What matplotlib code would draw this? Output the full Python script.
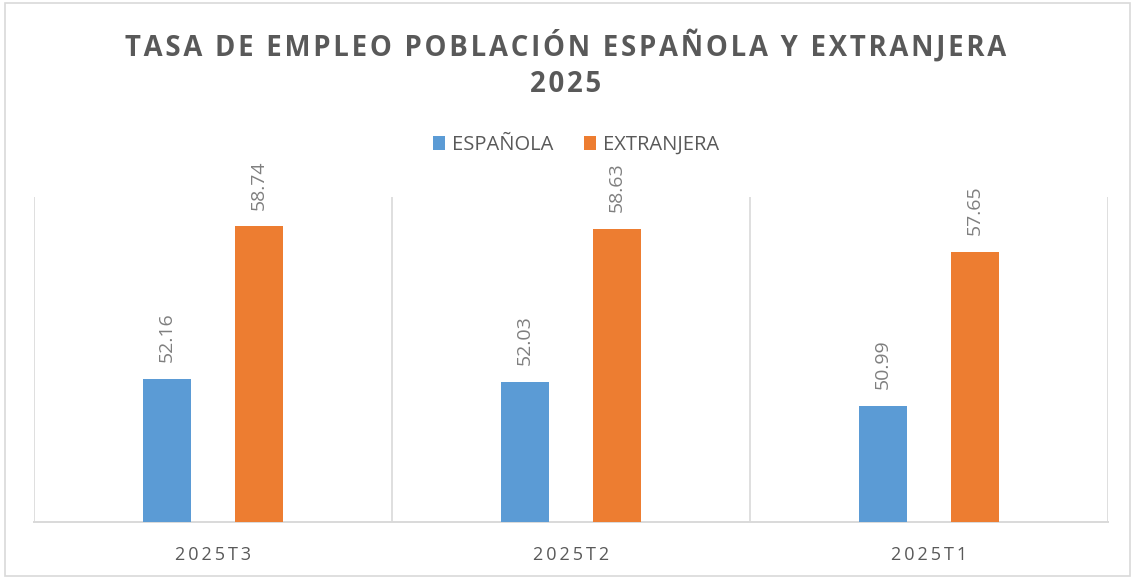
import matplotlib
matplotlib.use("Agg")
import matplotlib.pyplot as plt
import numpy as np
from matplotlib.patches import Rectangle

categories = ["2025T3", "2025T2", "2025T1"]
espanola = [52.16, 52.03, 50.99]
extranjera = [58.74, 58.63, 57.65]
series_names = ["ESPAÑOLA", "EXTRANJERA"]
title_lines = ["TASA DE EMPLEO POBLACIÓN ESPAÑOLA Y EXTRANJERA", "2025"]

BLUE = "#5B9BD5"
ORANGE = "#ED7D31"
GRID = "#D9D9D9"
TXT = "#595959"
FAM = ["Open Sans", "DejaVu Sans"]

def spaced(s, sp="\u200a"):
    return sp.join(list(s))

fig = plt.figure(figsize=(11.32, 5.78), dpi=100)
fig.patches.append(Rectangle((0.004, 0.004), 0.994, 0.99, transform=fig.transFigure,
                             fill=False, edgecolor=GRID, linewidth=1.2))
ax = fig.add_axes([34/1132, 1-522/578, (1108-34)/1132, (522-197)/578])

x = np.arange(len(categories))
w = 0.133
off = 0.129
b1 = ax.bar(x - off, espanola, w, color=BLUE, label=series_names[0], zorder=3)
b2 = ax.bar(x + off, extranjera, w, color=ORANGE, label=series_names[1], zorder=3)

ax.set_ylim(46, 60)
ax.set_xlim(-0.5, len(categories) - 0.5)
for xv in np.arange(-0.5, len(categories), 1.0):
    ax.axvline(xv, color=GRID, linewidth=1.2, zorder=1)
for s in ["top", "right", "left"]:
    ax.spines[s].set_visible(False)
ax.spines["bottom"].set_color(GRID)
ax.spines["bottom"].set_linewidth(1.4)
ax.set_yticks([])
ax.set_xticks(x)
ax.set_xticklabels([spaced(c, "\u2009") for c in categories], family=FAM, fontsize=13, color=TXT)
ax.tick_params(axis="x", length=0, pad=17)

for bars in (b1, b2):
    for r in bars:
        ax.annotate(f"{r.get_height():.2f}", (r.get_x() + r.get_width()/2, r.get_height()),
                    xytext=(0, 12), textcoords="offset points", rotation=90,
                    ha="center", va="bottom", family=FAM, fontsize=14, color="#7F7F7F")

fig.text(0.5, 1-46/578, spaced(title_lines[0], "\u200a"), ha="center", va="center",
         family=FAM, fontsize=19.8, fontweight="bold", color=TXT)
fig.text(0.5, 1-85/578, spaced(title_lines[1], "\u200a"), ha="center", va="center",
         family=FAM, fontsize=19.8, fontweight="bold", color=TXT)

fig.legend(handles=[b1, b2], labels=series_names, loc="center", bbox_to_anchor=(576/1132, 1-145/578),
           ncol=2, frameon=False, prop={"family": FAM, "size": 14.5}, handlelength=0.6,
           handleheight=0.65, handletextpad=0.35, columnspacing=1.5, labelcolor=TXT)

fig.savefig("out.png", dpi=100)
